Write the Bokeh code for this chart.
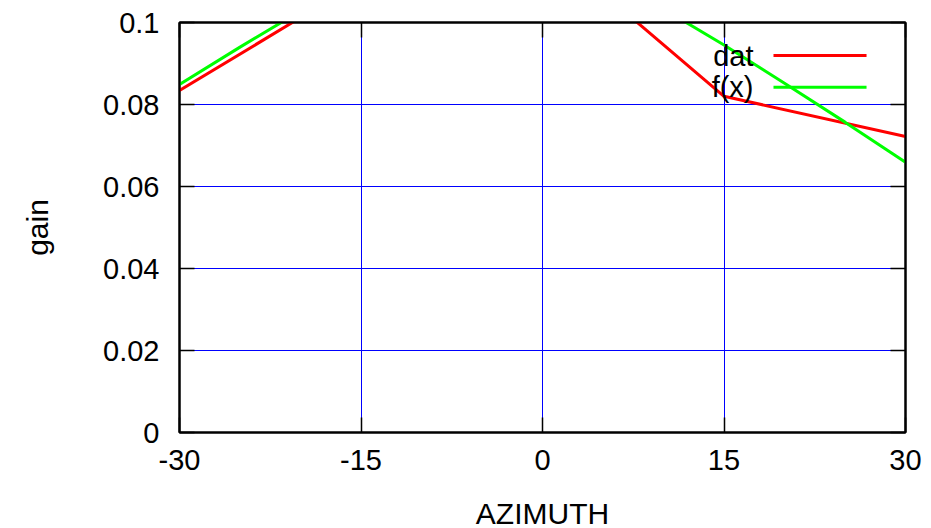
from bokeh.plotting import figure
from bokeh.models import (FixedTicker, LinearAxis, Range1d, Label, Arrow)
from bokeh.embed import file_html
from bokeh.resources import INLINE

# ---- data ----
dat_x = [-30, -15, 0, 15, 30]
dat_y = [0.0834, 0.1101, 0.1197, 0.0820, 0.0722]

fx_x = [-30, -25, -20, -15, -10, -5, 0, 5, 10, 15, 20, 25, 30]
fx_y = [0.0849, 0.0940, 0.1028, 0.1090, 0.1130, 0.1145, 0.1135,
        0.1100, 0.1033, 0.0945, 0.0852, 0.0757, 0.0659]

x_ticks = [-30, -15, 0, 15, 30]
x_tick_labels = ["-30", "-15", "0", "15", "30"]
y_ticks = [0, 0.02, 0.04, 0.06, 0.08, 0.1]
y_tick_labels = ["0", "0.02", "0.04", "0.06", "0.08", "0.1"]

series_names = ["dat", "f(x)"]
series_colors = ["#ff0000", "#00ff00"]

FONT = "Liberation Sans"
FS = "29px"

p = figure(output_backend="svg", toolbar_location=None,
           frame_width=726, frame_height=410,
           min_border_left=179, min_border_right=22,
           min_border_top=22, min_border_bottom=96,
           x_range=Range1d(-30, 30), y_range=Range1d(0, 0.1),
           x_axis_label="AZIMUTH", y_axis_label="gain")

p.background_fill_color = "white"
p.border_fill_color = "white"
p.outline_line_color = "black"
p.outline_line_width = 2

# grid
p.xgrid.ticker = FixedTicker(ticks=x_ticks)
p.ygrid.ticker = FixedTicker(ticks=y_ticks)
for g in (p.xgrid, p.ygrid):
    g.grid_line_color = "#0000ff"
    g.grid_line_width = 1
    g.grid_line_alpha = 1.0

def style_axis(ax, ticks, show_labels):
    ax.ticker = FixedTicker(ticks=ticks)
    ax.axis_line_color = "black"
    ax.axis_line_width = 2
    ax.major_tick_in = 15
    ax.major_tick_out = 0
    ax.major_tick_line_color = "black"
    ax.major_tick_line_width = 1.5
    ax.minor_tick_line_color = None
    ax.major_label_text_font = FONT
    ax.major_label_text_color = "black"
    if show_labels:
        ax.major_label_text_font_size = FS
    else:
        ax.major_label_overrides = {t: "" for t in ticks}
        ax.major_label_text_font_size = "1px"
        ax.major_label_standoff = 0

style_axis(p.xaxis[0], x_ticks, True)
style_axis(p.yaxis[0], y_ticks, True)
p.xaxis[0].major_label_overrides = {t: l for t, l in zip(x_ticks, x_tick_labels)}
p.yaxis[0].major_label_overrides = {t: l for t, l in zip(y_ticks, y_tick_labels)}
p.xaxis[0].major_label_standoff = 17
p.yaxis[0].major_label_standoff = 20

for ax, lbl_standoff in ((p.xaxis[0], 24), (p.yaxis[0], 46)):
    ax.axis_label_text_font = FONT
    ax.axis_label_text_font_size = "30px"
    ax.axis_label_text_font_style = "normal"
    ax.axis_label_text_color = "black"
    ax.axis_label_standoff = lbl_standoff

top = LinearAxis()
style_axis(top, x_ticks, False)
p.add_layout(top, "above")
right = LinearAxis()
style_axis(right, y_ticks, False)
p.add_layout(right, "right")

# series
p.line(dat_x, dat_y, line_color=series_colors[0], line_width=3)
p.line(fx_x, fx_y, line_color=series_colors[1], line_width=3)

# gnuplot-style key (text on the left, sample on the right)
key_y = [0.09195, 0.08422]
for name, color, ky in zip(series_names, series_colors, key_y):
    p.add_layout(Label(x=17.44, y=ky, text=name, text_align="right",
                       text_baseline="middle", text_font=FONT,
                       text_font_size=FS, text_color="black"))
    p.add_layout(Arrow(x_start=19.09, y_start=ky, x_end=26.78, y_end=ky,
                       start=None, end=None, line_color=color, line_width=3))

open("out.html", "w").write(file_html(p, INLINE))
